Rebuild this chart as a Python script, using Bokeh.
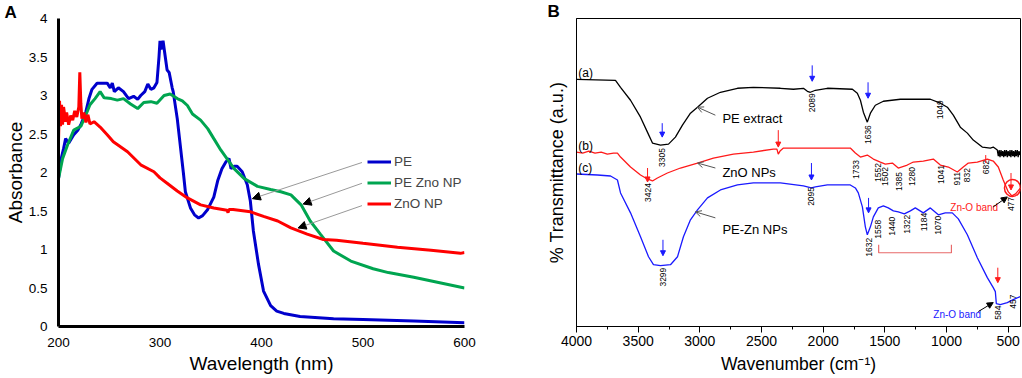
import math
from bokeh.plotting import figure
from bokeh.models import (Range1d, Arrow, NormalHead, OpenHead, Legend, LegendItem,
                          SingleIntervalTicker, FixedTicker, NumeralTickFormatter, ColumnDataSource)
from bokeh.layouts import row
from bokeh.embed import file_html
from bokeh.resources import INLINE
from bokeh.core.properties import value

FONT = "Liberation Sans"

# ---------------- Panel A : UV-Vis absorbance ----------------
pe_x = [200, 203, 205, 207, 210, 215, 219, 222, 227, 230, 233, 238, 243, 248, 251, 253, 255, 259, 264,
        269, 274, 278, 281, 285, 288, 291, 294, 297, 299, 300, 301, 303, 305, 307, 309, 312, 313, 317,
        320, 323, 325, 330, 334, 338, 342, 347, 353, 357, 361, 365, 368, 370, 373, 376, 381, 386, 389,
        392, 397, 402, 409, 415, 422, 438, 471, 500, 550, 600]
pe_y = [1.92, 2.2, 2.31, 2.44, 2.38, 2.49, 2.55, 2.62, 2.79, 2.96, 3.08, 3.16, 3.16, 3.16, 3.1, 3.16,
        3.05, 3.1, 3.05, 2.96, 2.99, 2.95, 3.0, 3.05, 3.15, 3.08, 3.1, 3.17, 3.5, 3.71, 3.6, 3.71, 3.52,
        3.33, 3.3, 3.1, 3.05, 2.7, 2.35, 2.0, 1.75, 1.54, 1.45, 1.41, 1.44, 1.52, 1.68, 1.9, 2.05, 2.14,
        2.18, 2.05, 2.08, 2.08, 2.01, 1.84, 1.63, 1.24, 0.81, 0.46, 0.27, 0.2, 0.17, 0.13, 0.1, 0.09,
        0.07, 0.05]

pezno_x = [200, 204, 209, 215, 222, 227, 231, 236, 241, 245, 252, 258, 264, 271, 278, 284, 291, 297,
           304, 310, 317, 322, 327, 332, 340, 347, 353, 360, 367, 373, 383, 396, 409, 419, 429, 439,
           448, 458, 471, 488, 510, 525, 550, 600]
pezno_y = [1.92, 2.18, 2.36, 2.55, 2.6, 2.75, 2.88, 2.96, 3.05, 2.97, 2.96, 2.94, 2.96, 2.89, 2.83,
           2.91, 2.92, 2.9, 3.0, 3.02, 2.96, 2.93, 2.87, 2.76, 2.68, 2.57, 2.44, 2.29, 2.16, 2.05, 1.92,
           1.82, 1.78, 1.75, 1.71, 1.58, 1.37, 1.2, 0.98, 0.85, 0.75, 0.7, 0.64, 0.5]

zno_x = [200, 201, 202, 203, 204, 205, 207, 208, 210, 212, 214, 216, 218, 220, 221, 222, 223, 225, 227,
         229, 231, 235, 241, 248, 254, 268, 281, 294, 300, 307, 317, 327, 340, 353, 366, 367, 368, 372,
         389, 402, 416, 429, 445, 461, 474, 500, 534, 567, 596, 600]
zno_y = [2.4, 2.93, 2.6, 2.88, 2.62, 2.85, 2.66, 2.78, 2.62, 2.74, 2.68, 2.8, 2.72, 2.85, 3.3, 2.9, 2.7,
         2.78, 2.65, 2.75, 2.63, 2.66, 2.59, 2.49, 2.4, 2.27, 2.1, 2.01, 1.93, 1.86, 1.76, 1.67, 1.58,
         1.54, 1.51, 1.48, 1.52, 1.52, 1.49, 1.43, 1.37, 1.28, 1.2, 1.13, 1.12, 1.08, 1.03, 0.99, 0.95,
         0.96]

series_names = ["PE", "PE Zno NP", "ZnO NP"]
series_colors = ["#0000CC", "#00A550", "#FF0000"]
a_xticks = [200, 300, 400, 500, 600]
a_yticks = [0, 0.5, 1, 1.5, 2, 2.5, 3, 3.5, 4]

# leader arrows (legend -> curve), start and tip in data units
lead_x0 = [499, 499, 499]
lead_y0 = [2.13, 1.86, 1.57]
lead_x1 = [391, 441, 436]
lead_y1 = [1.66, 1.59, 1.28]

# ---------------- Panel B : FTIR ----------------
a_x = [4000, 3684, 3643, 3562, 3481, 3425, 3384, 3319, 3254, 3198, 3141, 3076, 3019, 2938, 2833, 2695,
       2566, 2347, 2241, 2160, 2128, 2104, 2063, 1966, 1763, 1723, 1698, 1674, 1642, 1617, 1577, 1512,
       1374, 1131, 1050, 993, 945, 888, 831, 783, 710, 645, 621, 588]
a_y = [248, 247, 240, 227, 210, 195, 184, 182, 183, 190, 202, 214, 220, 229, 235, 239, 240, 239, 238,
       239, 236, 235, 237, 239, 238, 234, 227, 215, 205, 214, 222, 226, 228, 228, 224, 220, 212, 200,
       194, 187, 180, 179, 180, 177]
a_noise_x = [580, 573, 566, 558, 551, 544, 536, 529, 522, 514, 507, 500, 492, 485, 478, 470, 463, 456,
             448, 441, 434, 426, 419, 412, 404]
a_noise_y = [171, 177, 170, 177, 171, 176, 170, 177, 171, 177, 170, 176, 171, 177, 170, 177, 171, 176,
             170, 177, 171, 177, 170, 176, 172]

b_x = [4000, 3950, 3900, 3850, 3800, 3750, 3700, 3668, 3643, 3562, 3481, 3425, 3384, 3344, 3263, 3157,
       3019, 2890, 2728, 2566, 2404, 2375, 2364, 2350, 2322, 2104, 1780, 1739, 1698, 1642, 1593, 1536,
       1496, 1439, 1391, 1318, 1269, 1188, 1107, 1050, 985, 912, 864, 823, 750, 669, 621, 580, 540,
       499, 470, 440, 400]
b_y = [175, 174, 176, 174, 175, 173, 174, 174, 170, 160, 152, 148, 146, 149, 154, 159, 164, 169, 173,
       175, 178, 178, 173, 176, 179, 179, 179, 174, 170, 172, 168, 165, 163, 164, 159, 162, 165, 166,
       168, 162, 160, 155, 160, 164, 165, 168, 166, 160, 147, 135, 131, 133, 139]

c_x = [4000, 3830, 3724, 3668, 3643, 3562, 3481, 3416, 3376, 3319, 3238, 3181, 3133, 3076, 3019, 2938,
       2833, 2695, 2566, 2347, 2160, 2128, 2096, 2063, 1966, 1780, 1739, 1715, 1682, 1658, 1642, 1617,
       1593, 1553, 1512, 1472, 1431, 1391, 1342, 1293, 1253, 1188, 1131, 1066, 1010, 953, 904, 831,
       750, 669, 621, 604, 596, 564, 507, 459, 402]
c_y = [153, 152, 151, 147, 134, 114, 90, 70, 62, 61, 62, 70, 90, 107, 117, 129, 137, 142, 144, 144,
       141, 140, 139, 140, 142, 142, 139, 134, 120, 100, 92, 100, 110, 119, 121, 119, 116, 115, 113,
       116, 119, 114, 119, 112, 114, 114, 108, 92, 69, 49, 39, 35, 23, 22, 24, 27, 30]

# peak labels (wavenumber, top of rotated label)
pk_a = [3305, 2089, 1636, 1049]
pk_a_top = [179, 234, 202, 227]
pk_b = [3424, 1733, 1552, 1502, 1385, 1280, 1041, 911, 832, 682, 477]
pk_b_top = [144, 167, 164, 160, 155, 160, 162, 155, 159, 167, 130]
pk_c = [3299, 2095, 1632, 1558, 1440, 1322, 1184, 1070, 584, 457]
pk_c_top = [59, 140, 89, 107, 110, 112, 114, 111, 21, 32]

# marker arrows
blue_arr_x = [3305, 2089, 1636, 2095, 1632, 3299]
blue_arr_y0 = [204, 262, 245, 164, 129, 87]
blue_arr_y1 = [190, 246, 229, 147, 114, 71]
red_arr_x = [3424, 2364, 477, 584]
red_arr_y0 = [159, 197, 154, 59]
red_arr_y1 = [145, 180, 137, 44]

curve_tags = ["(a)", "(b)", "(c)"]
curve_tag_y = [254, 181, 159]
curve_names = ["PE extract", "ZnO NPs", "PE-Zn NPs"]
curve_name_y = [209, 155, 97]
curve_ptr_y0 = [212, 159, 109]
curve_ptr_x1 = [3019, 3019, 3036]
curve_ptr_y1 = [220, 164, 115]

BLK, RED, BLU = "#000000", "#FF1A1A", "#1A1AFF"

# =============== Figure A ===============
pA = figure(width=520, height=378, output_backend="svg", toolbar_location=None,
            x_range=Range1d(200, 600), y_range=Range1d(0, 4),
            min_border_left=58, min_border_right=56, min_border_top=16, min_border_bottom=52)
pA.outline_line_color = None
pA.xgrid.grid_line_color = None
pA.ygrid.grid_line_color = None

pA.title.text = "A"
pA.title.text_font = FONT
pA.title.text_font_size = "17px"
pA.title.text_font_style = "bold"
pA.title.text_color = "black"
pA.title.align = "left"
pA.title.offset = -54
pA.title.standoff = -7

rA = []
for xs, ys, c in zip([pe_x, pezno_x, zno_x], [pe_y, pezno_y, zno_y], series_colors):
    rA.append(pA.line(xs, ys, line_color=c, line_width=3))

for ax in (pA.xaxis[0], pA.yaxis[0]):
    ax.axis_line_color = "black"
    ax.axis_line_width = 3
    ax.major_tick_line_color = None
    ax.minor_tick_line_color = None
    ax.major_tick_out = 0
    ax.major_tick_in = 0
    ax.minor_tick_out = 0
    ax.minor_tick_in = 0
    ax.major_label_text_font = FONT
    ax.major_label_text_font_size = "13.5px"
    ax.major_label_text_color = "black"
    ax.axis_label_text_font = FONT
    ax.axis_label_text_font_size = "19px"
    ax.axis_label_text_font_style = "normal"
    ax.axis_label_text_color = "black"
pA.xaxis.ticker = FixedTicker(ticks=a_xticks)
pA.yaxis.ticker = FixedTicker(ticks=a_yticks)
pA.yaxis.formatter = NumeralTickFormatter(format="0.[0]")
pA.xaxis.axis_label = "Wavelength (nm)"
pA.yaxis.axis_label = "Absorbance"
pA.xaxis.major_label_standoff = 11
pA.xaxis.axis_label_standoff = 3
pA.yaxis.major_label_standoff = 11
pA.yaxis.axis_label_standoff = 0

for x0, y0, x1, y1 in zip(lead_x0, lead_y0, lead_x1, lead_y1):
    pA.add_layout(Arrow(end=NormalHead(size=8, fill_color="black", line_color="black"),
                        x_start=x0, y_start=y0, x_end=x1, y_end=y1,
                        line_color="#999999", line_width=1))

legA = Legend(items=[LegendItem(label=n, renderers=[r]) for n, r in zip(series_names, rA)],
              location=(309, 112), border_line_color=None, background_fill_alpha=0,
              padding=0, margin=0, spacing=0, glyph_width=24, glyph_height=21, label_height=21,
              label_standoff=3, label_text_font=FONT, label_text_font_size="13.5px")
pA.add_layout(legA)

# =============== Figure B ===============
pB = figure(width=502, height=378, output_backend="svg", toolbar_location=None,
            x_range=Range1d(4000, 400), y_range=Range1d(0, 309),
            min_border_left=56, min_border_right=2, min_border_top=18, min_border_bottom=51)
pB.outline_line_color = "black"
pB.outline_line_width = 1
pB.xgrid.grid_line_color = None
pB.ygrid.grid_line_color = None

pB.title.text = "B"
pB.title.text_font = FONT
pB.title.text_font_size = "17px"
pB.title.text_font_style = "bold"
pB.title.text_color = "black"
pB.title.align = "left"
pB.title.offset = -29
pB.title.standoff = -4

pB.line(a_x + a_noise_x, a_y + a_noise_y, line_color=BLK, line_width=1.3)
pB.line(b_x, b_y, line_color=RED, line_width=1.3)
pB.line(c_x, c_y, line_color=BLU, line_width=1.3)

for ax in (pB.xaxis[0], pB.yaxis[0]):
    ax.axis_line_color = "black"
    ax.axis_line_width = 1
    ax.major_tick_line_color = "black"
    ax.minor_tick_line_color = "black"
    ax.major_tick_in = 0
    ax.minor_tick_in = 0
    ax.major_label_text_font = FONT
    ax.major_label_text_font_size = "14px"
    ax.major_label_text_color = "black"
    ax.axis_label_text_font = FONT
    ax.axis_label_text_font_style = "normal"
    ax.axis_label_text_color = "black"
pB.xaxis.ticker = SingleIntervalTicker(interval=500, num_minor_ticks=2)
pB.xaxis.major_tick_out = 6
pB.xaxis.minor_tick_out = 3
pB.xaxis.major_label_standoff = 3
pB.xaxis.axis_label_standoff = 5
pB.xaxis.axis_label_text_font_size = "17.5px"
pB.xaxis.axis_label = "Wavenumber (cm\u207b\u00b9)"
pB.yaxis.ticker = FixedTicker(ticks=[])
pB.yaxis.major_tick_out = 0
pB.yaxis.minor_tick_out = 0
pB.yaxis.major_label_standoff = 0
pB.yaxis.axis_label_standoff = 10
pB.yaxis.axis_label_text_font_size = "18px"
pB.yaxis.axis_label = "% Transmittance (a.u.)"

# peak number labels
for xs, tops in ((pk_a, pk_a_top), (pk_b, pk_b_top), (pk_c, pk_c_top)):
    pB.text(x=xs, y=tops, text=[str(v) for v in xs], angle=math.pi / 2, text_align="right",
            text_baseline="middle", text_font=value(FONT), text_font_size="8.5px", text_color="black")

# marker arrows
for xs, y0, y1, col in ((blue_arr_x, blue_arr_y0, blue_arr_y1, BLU), (red_arr_x, red_arr_y0, red_arr_y1, RED)):
    src = ColumnDataSource(dict(x=xs, y0=y0, y1=y1))
    pB.add_layout(Arrow(end=NormalHead(size=5, fill_color=col, line_color=col),
                        x_start="x", y_start="y0", x_end="x", y_end="y1", source=src,
                        line_color=col, line_width=1))

# red marks: tick at 682, bracket, circle around Zn-O band
pB.line([682, 682], [164, 172], line_color=RED, line_width=1)
pB.line([1550, 1550, 960, 960], [82, 74, 74, 82], line_color="#E86A6A", line_width=1.2)
pB.ellipse(x=[465], y=[139], width=130, height=17, fill_color=None, line_color=RED, line_width=1.5)

pB.text(x=[969], y=[119], text=["Zn-O band"], text_font=value(FONT), text_font_size="10px",
        text_color=RED, text_align="left", text_baseline="middle")
pB.text(x=[1107], y=[12], text=["Zn-O band"], text_font=value(FONT), text_font_size="10px",
        text_color=BLU, text_align="left", text_baseline="middle")
pB.add_layout(Arrow(end=NormalHead(size=6, fill_color="black", line_color="black"),
                    x_start=621, y_start=120, x_end=507, y_end=130, line_color="black", line_width=1))
pB.add_layout(Arrow(end=NormalHead(size=6, fill_color="black", line_color="black"),
                    x_start=742, y_start=15, x_end=621, y_end=24, line_color="black", line_width=1))

# curve tags and names
pB.text(x=[3985] * 3, y=curve_tag_y, text=curve_tags, text_font=value(FONT), text_font_size="12px",
        text_color="black", text_align="left", text_baseline="middle")
pB.text(x=[2817] * 3, y=curve_name_y, text=curve_names, text_font=value(FONT), text_font_size="13px",
        text_color="black", text_align="left", text_baseline="middle")
for y0, x1, y1 in zip(curve_ptr_y0, curve_ptr_x1, curve_ptr_y1):
    pB.add_layout(Arrow(end=OpenHead(size=6, line_color="#555555", line_width=1),
                        x_start=2874, y_start=y0, x_end=x1, y_end=y1, line_color="#555555", line_width=1))

layout = row(pA, pB)
open("out.html", "w").write(file_html(layout, INLINE))
